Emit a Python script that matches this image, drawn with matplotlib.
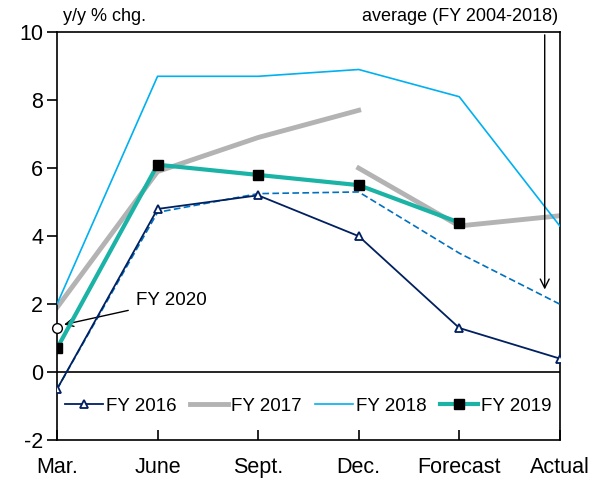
import matplotlib.pyplot as plt
import numpy as np

labels = ["Mar.", "June", "Sept.", "Dec.", "Forecast", "Actual"]
nan = np.nan

fy2016 = [-0.5, 4.8, 5.2, 4.0, 1.3, 0.4]
fy2017 = [1.9, 5.9, 6.9, 7.7, nan, nan]
fy2017_rev = [nan, nan, nan, 6.0, 4.3, 4.6]
fy2018 = [2.0, 8.7, 8.7, 8.9, 8.1, 4.3]
fy2019 = [0.7, 6.1, 5.8, 5.5, 4.4, nan]
average = [-0.5, 4.7, 5.25, 5.3, 3.5, 2.0]
fy2020 = [1.3]

x = np.arange(len(labels))

plt.rcParams['font.family'] = ['Liberation Sans', 'DejaVu Sans']
plt.rcParams['axes.unicode_minus'] = False
fig = plt.figure(figsize=(6, 4.79), dpi=100)
ax = fig.add_axes([0.095, 0.081, 0.838, 0.852])

ax.axhline(0, color="black", lw=1.2)
ax.plot(x, fy2018, color="#00b0f0", lw=1.2, label="FY 2018", zorder=3)
ax.plot(x, fy2017, color="#b3b3b3", lw=3.5, label="FY 2017", zorder=2)
ax.plot(x, fy2017_rev, color="#b3b3b3", lw=3.5, zorder=2)
ax.plot(x, average, color="#0070c0", lw=1.2, ls=(0, (4, 2)), zorder=3)
ax.plot(x, fy2016, color="#002060", lw=1.3, marker="^", ms=6, mfc="white",
        mec="#002060", mew=1.3, label="FY 2016", zorder=4)
ax.plot(x, fy2019, color="#1ab3a6", lw=3, marker="s", ms=7, mfc="black",
        mec="black", label="FY 2019", zorder=5)
ax.plot(x[:1], fy2020, ls="none", marker="o", ms=7, mfc="white", mec="black",
        mew=1, zorder=6, clip_on=False)

ax.set_xlim(0, 5)
ax.set_ylim(-2, 10)
ax.set_yticks(range(-2, 11, 2))
ax.set_xticks(x)
ax.set_xticklabels(labels, fontsize=15.5)
ax.tick_params(axis="y", direction="out", length=7, width=1.2, labelsize=15.5, pad=3)
ax.tick_params(axis="x", direction="in", length=7, width=1.2, pad=12)
for s in ax.spines.values():
    s.set_linewidth(1.2)

ax.text(0.06, 10.2, "y/y % chg.", fontsize=13, ha="left", va="bottom")
ax.text(4.98, 10.2, "average (FY 2004-2018)", fontsize=13, ha="right", va="bottom")
ax.annotate("", xy=(4.85, 2.35), xytext=(4.85, 10),
            arrowprops=dict(arrowstyle="->", color="black", lw=1, mutation_scale=16))
ax.annotate("FY 2020", xy=(0.07, 1.4), xytext=(0.79, 2.1), fontsize=13.5,
            va="center", ha="left",
            arrowprops=dict(arrowstyle="->", color="black", lw=1, mutation_scale=14,
                            shrinkA=4, shrinkB=0))

h, l = ax.get_legend_handles_labels()
order = [l.index(n) for n in ["FY 2016", "FY 2017", "FY 2018", "FY 2019"]]
ax.legend([h[i] for i in order], [l[i] for i in order], loc="lower center",
          bbox_to_anchor=(0.5, 0.03), ncol=4, frameon=False, fontsize=13.5,
          handlelength=2.0, handletextpad=0.2, columnspacing=0.7, borderpad=0.2)

fig.savefig("out.png", dpi=100)
